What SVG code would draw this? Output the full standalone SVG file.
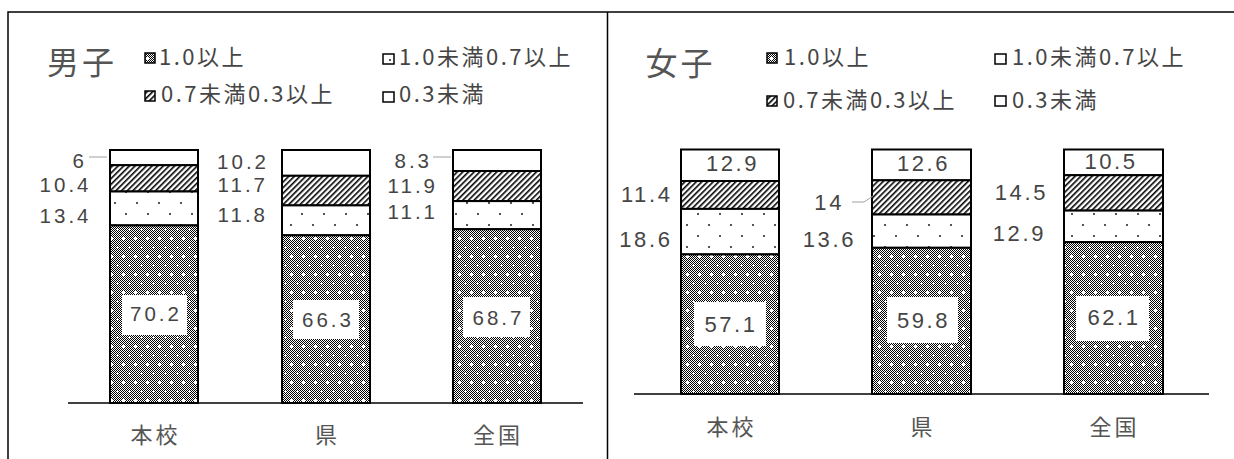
<svg xmlns="http://www.w3.org/2000/svg" width="1234" height="459" viewBox="0 0 1234 459">
<style>
.t{font-family:"Noto Sans CJK JP","Noto Sans",sans-serif;fill:#454545}
.num{font-family:"Liberation Sans",Arial,sans-serif;font-size:20.5px;letter-spacing:3px}
.numR{font-family:"Liberation Sans",Arial,sans-serif;font-size:22px;letter-spacing:2.6px}
.leg{font-size:22px;letter-spacing:2.5px}
.cat{font-size:22px;letter-spacing:3px;text-anchor:middle;fill:#555}
.ttl{font-size:32px;letter-spacing:3px;fill:#555}
.end{text-anchor:end}
.mid{text-anchor:middle}
.seg{stroke:#000;stroke-width:2}
.sw{stroke:#000;stroke-width:1.5}
.f0{fill:#fff}
.f1{fill:url(#hatch)}
.f2{fill:url(#dots)}
.f3{fill:url(#conf)}
.box{fill:#fff}
.frame{fill:none;stroke:#000;stroke-width:1.5}
.axis{fill:none;stroke:#000;stroke-width:1.5}
.lead{fill:none;stroke:#a0a0a0;stroke-width:1}
</style>
<defs>
<pattern id="chk" width="2" height="2" patternUnits="userSpaceOnUse">
<rect width="2" height="2" fill="#fff"/>
<rect width="1" height="1" fill="#000"/>
<rect x="1" y="1" width="1" height="1" fill="#000"/>
</pattern>
<pattern id="conf" width="12" height="18" patternUnits="userSpaceOnUse">
<rect width="12" height="18" fill="url(#chk)"/>
<path d="M2 4h3v1h-3z M3 3h1v3h-1z M8 13h3v1h-3z M9 12h1v3h-1z" fill="#fff"/>
</pattern>
<pattern id="dots" width="22" height="22" patternUnits="userSpaceOnUse">
<rect width="22" height="22" fill="#fff"/>
<rect x="4" y="4" width="2" height="2" fill="#555"/>
<rect x="15" y="15" width="2" height="2" fill="#555"/>
</pattern>
<pattern id="hatch" width="4" height="4" patternUnits="userSpaceOnUse" patternTransform="rotate(45)">
<rect width="4" height="4" fill="#fff"/>
<rect width="1.6" height="4" fill="#000"/>
</pattern>
</defs>
<rect width="1234" height="459" fill="#fff"/>
<g id="frame"><path class="frame" d="M8 459V12H1234M607.5 12V459"/></g>

<!-- LEFT PANEL -->
<g id="title-boys"><text class="t ttl" x="47" y="74">男子</text></g>
<g id="legend-boys">
<rect class="sw f3" x="145" y="53" width="10" height="10"/>
<text class="t leg" x="159" y="64.5">1.0以上</text>
<rect class="sw f2" x="383" y="54" width="11" height="10"/>
<text class="t leg" x="399" y="64.5">1.0未満0.7以上</text>
<rect class="sw f1" x="145" y="91" width="10" height="10"/>
<text class="t leg" x="161" y="102">0.7未満0.3以上</text>
<rect class="sw f0" x="383" y="92" width="11" height="10"/>
<text class="t leg" x="399" y="102">0.3未満</text>
</g>
<g id="axis-boys"><path class="axis" d="M68 403H583"/></g>
<g id="bar-boys-school">
<rect class="seg f0" x="110" y="150" width="88" height="15.2"/>
<rect class="seg f1" x="110" y="165.2" width="88" height="26.3"/>
<rect class="seg f2" x="110" y="191.5" width="88" height="33.9"/>
<rect class="seg f3" x="110" y="225.4" width="88" height="177.6"/>
<rect class="box" x="122" y="295" width="65" height="40"/>
<text class="t num mid" x="156" y="321">70.2</text>
<text class="t num end" x="87" y="168">6</text>
<text class="t num end" x="91.5" y="192">10.4</text>
<text class="t num end" x="91.5" y="222.5">13.4</text>
<text class="t cat" x="155.5" y="443">本校</text>
</g>
<g id="bar-boys-pref">
<rect class="seg f0" x="282" y="150" width="88" height="25.8"/>
<rect class="seg f1" x="282" y="175.8" width="88" height="29.6"/>
<rect class="seg f2" x="282" y="205.4" width="88" height="29.9"/>
<rect class="seg f3" x="282" y="235.3" width="88" height="167.7"/>
<rect class="box" x="293" y="300" width="66" height="39"/>
<text class="t num mid" x="328" y="327">66.3</text>
<text class="t num end" x="269" y="168.5">10.2</text>
<text class="t num end" x="268" y="191.5">11.7</text>
<text class="t num end" x="268" y="222">11.8</text>
<text class="t cat" x="327.5" y="443">県</text>
</g>
<g id="bar-boys-nation">
<rect class="seg f0" x="453" y="150" width="88" height="21"/>
<rect class="seg f1" x="453" y="171" width="88" height="30.1"/>
<rect class="seg f2" x="453" y="201.1" width="88" height="28.1"/>
<rect class="seg f3" x="453" y="229.2" width="88" height="173.8"/>
<rect class="box" x="463" y="297" width="67" height="40"/>
<text class="t num mid" x="498.5" y="324.5">68.7</text>
<text class="t num end" x="432" y="167.5">8.3</text>
<text class="t num end" x="438" y="192.5">11.9</text>
<text class="t num end" x="438" y="219">11.1</text>
<text class="t cat" x="498" y="443">全国</text>
</g>

<!-- RIGHT PANEL -->
<g id="title-girls"><text class="t ttl" x="645.5" y="74.5">女子</text></g>
<g id="legend-girls">
<rect class="sw f3" x="767" y="53" width="10" height="10"/>
<text class="t leg" x="784" y="65">1.0以上</text>
<rect class="sw f2" x="995" y="54" width="11" height="10"/>
<text class="t leg" x="1012" y="65">1.0未満0.7以上</text>
<rect class="sw f1" x="767" y="96" width="10" height="10"/>
<text class="t leg" x="783" y="108">0.7未満0.3以上</text>
<rect class="sw f0" x="995" y="96" width="11" height="10"/>
<text class="t leg" x="1012" y="108">0.3未満</text>
</g>
<g id="axis-girls"><path class="axis" d="M634 394H1209"/></g>
<g id="bar-girls-school">
<rect class="seg f0" x="681" y="149.5" width="98" height="31.5"/>
<rect class="seg f1" x="681" y="181" width="98" height="27.9"/>
<rect class="seg f2" x="681" y="208.9" width="98" height="45.5"/>
<rect class="seg f3" x="681" y="254.4" width="98" height="139.6"/>
<rect class="box" x="694" y="302" width="72" height="44"/>
<text class="t numR mid" x="731" y="331.5">57.1</text>
<text class="t numR mid" x="732.5" y="170.5">12.9</text>
<text class="t numR end" x="672.5" y="201.5">11.4</text>
<text class="t numR end" x="672.5" y="246.5">18.6</text>
<text class="t cat" x="731.5" y="434.5">本校</text>
</g>
<g id="bar-girls-pref">
<rect class="seg f0" x="872" y="149.5" width="99" height="30.8"/>
<rect class="seg f1" x="872" y="180.3" width="99" height="34.2"/>
<rect class="seg f2" x="872" y="214.5" width="99" height="33.3"/>
<rect class="seg f3" x="872" y="247.8" width="99" height="146.2"/>
<rect class="box" x="887" y="297" width="71" height="46"/>
<text class="t numR mid" x="923.5" y="328">59.8</text>
<text class="t numR mid" x="923.5" y="171">12.6</text>
<text class="t numR end" x="844" y="210">14</text>
<text class="t numR end" x="856" y="246.5">13.6</text>
<text class="t cat" x="923" y="434.5">県</text>
</g>
<g id="bar-girls-nation">
<rect class="seg f0" x="1064" y="149.5" width="99" height="25.7"/>
<rect class="seg f1" x="1064" y="175.2" width="99" height="35.4"/>
<rect class="seg f2" x="1064" y="210.6" width="99" height="31.5"/>
<rect class="seg f3" x="1064" y="242.1" width="99" height="151.9"/>
<rect class="box" x="1076" y="296" width="73" height="45"/>
<text class="t numR mid" x="1114" y="325">62.1</text>
<text class="t numR mid" x="1111" y="168.5">10.5</text>
<text class="t numR end" x="1048" y="200">14.5</text>
<text class="t numR end" x="1046" y="241">12.9</text>
<text class="t cat" x="1114.5" y="434.5">全国</text>
</g>

<g id="connectors">
<path class="lead" d="M89 157H107"/>
<path class="lead" d="M433 157H451"/>
<path class="lead" d="M852 202H864L873 196"/>
</g>
</svg>
